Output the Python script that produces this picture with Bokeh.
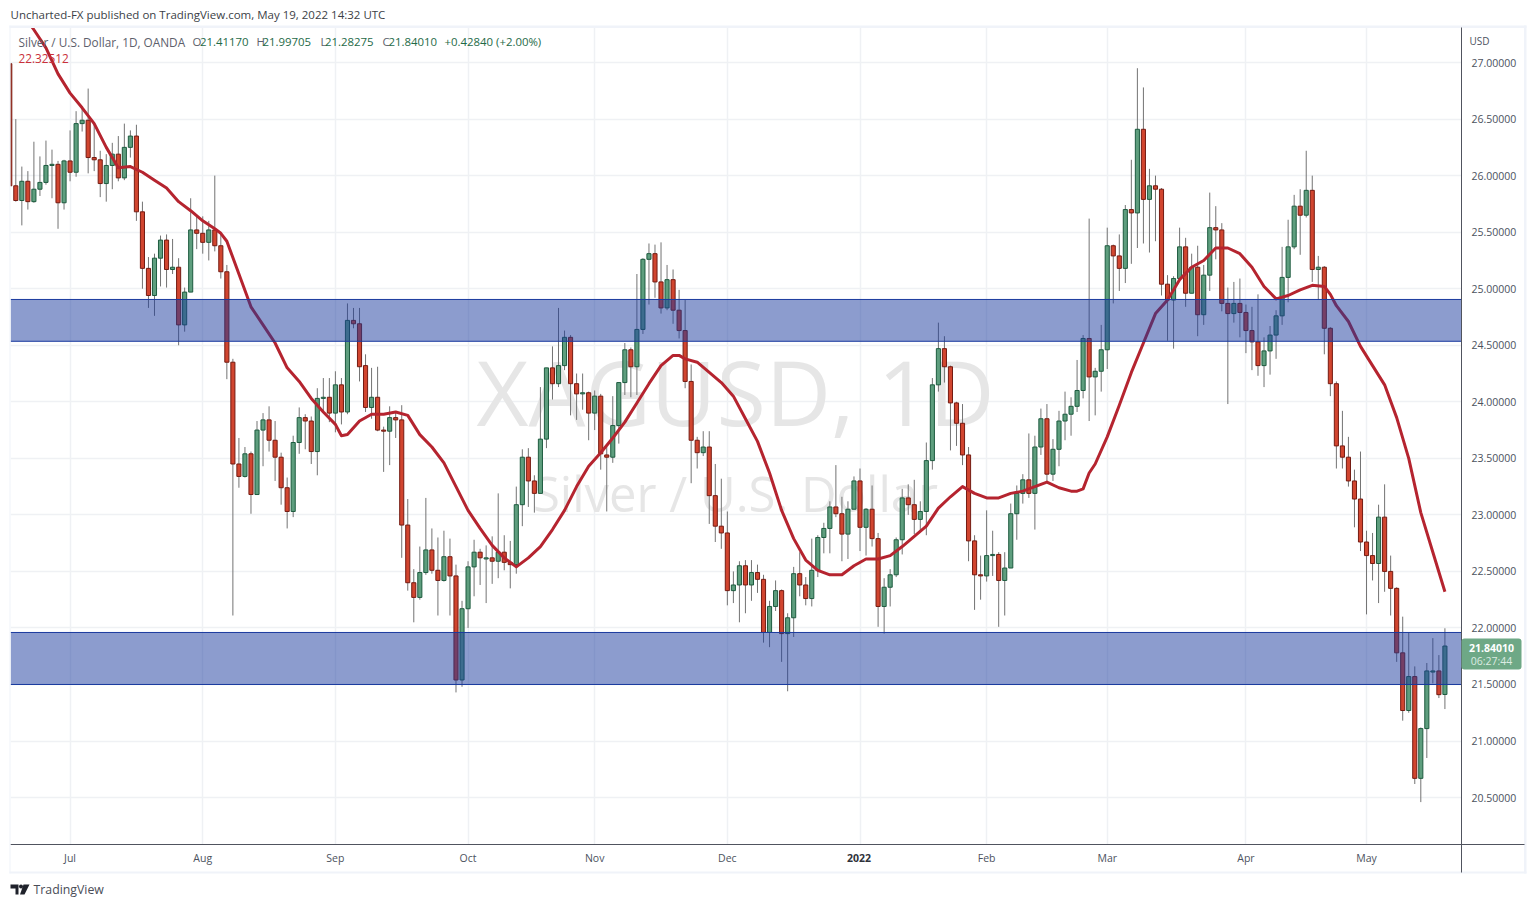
from bokeh.plotting import figure
from bokeh.models import (Range1d, LinearAxis, FixedTicker, NumeralTickFormatter, Label,
                          BoxAnnotation, Span)
from bokeh.embed import file_html
from bokeh.resources import INLINE

SYMBOL = "XAGUSD, 1D"
SUBTITLE = "Silver / U.S. Dollar"
PRICE_TICKS = [20.5, 21.0, 21.5, 22.0, 22.5, 23.0, 23.5, 24.0, 24.5, 25.0, 25.5, 26.0, 26.5, 27.0]
MONTH_BARS = [10, 32, 54, 76, 97, 119, 162, 182, 205, 225]
MONTH_NAMES = ["Jul", "Aug", "Sep", "Oct", "Nov", "Dec", "Feb", "Mar", "Apr", "May"]
YEAR_BAR = 141
YEAR_NAME = "2022"
ZONE_HIGH = (24.905, 24.535)
ZONE_LOW = (21.96, 21.50)

opens = [26.99,25.91,25.78,25.95,25.77,25.88,25.94,26.09,26.10,25.76,26.13,26.03,26.46,26.49,26.16,26.14,25.93,26.09,26.19,25.98,26.25,
 26.35,25.68,25.18,24.94,25.27,25.43,25.17,25.19,24.68,24.97,25.52,25.49,25.41,25.52,25.38,25.15,24.35,23.45,23.34,23.54,23.18,23.75,23.84,23.66,23.51,23.24,23.03,23.64,23.86,23.83,
 23.56,24.03,24.04,23.90,24.15,23.91,24.72,24.69,24.32,23.95,24.04,23.75,23.74,23.86,23.84,22.91,22.40,22.27,22.49,22.69,22.51,22.42,22.63,22.46,21.54,22.17,22.54,22.67,22.61,22.62,
 22.59,22.67,22.58,22.56,23.09,23.51,23.30,23.19,23.67,24.30,24.16,24.32,24.57,24.16,24.07,24.08,23.90,24.05,23.53,23.51,23.79,24.17,24.46,24.31,24.64,25.26,25.31,25.06,24.83,25.08,
 24.81,24.63,24.18,23.66,23.55,23.60,23.17,22.90,22.84,22.33,22.38,22.55,22.38,22.49,22.43,21.96,22.19,22.33,21.95,22.09,22.48,22.38,22.26,22.51,22.80,22.88,23.07,23.01,22.83,23.05,
 23.30,22.89,23.05,22.79,22.19,22.36,22.47,22.78,23.15,23.09,22.96,23.03,23.48,24.15,24.47,24.31,23.99,23.81,23.53,22.77,22.47,22.46,22.64,22.65,22.42,22.53,23.01,23.19,23.31,23.19,
 23.60,23.85,23.36,23.58,23.83,23.89,23.96,24.10,24.56,24.22,24.27,24.46,25.38,25.29,25.18,25.70,25.67,26.41,25.79,25.91,25.88,25.04,24.90,25.09,25.37,24.96,25.19,24.77,25.12,25.54,
 25.52,24.87,24.78,24.87,24.79,24.63,24.53,24.32,24.45,24.59,24.76,25.10,25.37,25.73,25.65,25.87,25.17,25.19,24.65,24.16,23.61,23.51,23.30,23.14,22.76,22.64,22.57,22.98,22.50,22.35,
 21.78,21.27,21.57,20.67,21.11,21.61,21.62,21.4117]
highs = [27.00,26.50,26.08,26.04,26.30,26.17,26.31,26.23,26.13,26.14,26.40,26.57,26.61,26.77,26.47,26.22,26.19,26.29,26.35,26.46,26.40,
 26.45,25.77,25.28,25.31,25.47,25.48,25.44,25.27,25.01,25.80,25.64,25.64,25.60,26.00,25.48,25.21,24.38,23.68,23.60,23.56,23.83,23.90,23.96,23.83,23.55,23.33,23.70,23.95,23.89,23.87,
 24.12,24.21,24.21,24.27,24.21,24.87,24.83,24.83,24.42,24.30,24.31,23.78,23.96,23.91,23.97,23.14,22.52,22.72,23.15,22.88,22.80,22.86,22.79,22.56,22.24,22.59,22.78,22.70,22.73,22.81,
 23.19,22.82,22.77,23.25,23.58,23.59,23.35,24.13,24.30,24.49,24.83,24.63,24.59,24.25,24.25,24.09,24.10,24.07,23.60,24.05,24.17,24.52,24.48,25.13,25.27,25.40,25.39,25.41,25.21,25.17,
 24.99,24.90,24.33,23.69,23.74,23.74,23.45,23.32,23.03,22.50,22.59,22.60,22.60,22.56,22.47,22.24,22.42,22.34,22.13,22.54,22.67,22.45,22.79,22.82,22.93,23.12,23.44,23.16,23.12,23.34,
 23.41,23.06,23.26,22.84,22.44,22.52,22.80,23.23,23.27,23.31,23.12,23.64,24.21,24.70,24.58,24.32,24.00,23.98,23.60,22.82,22.64,23.04,22.86,22.67,22.67,23.10,23.26,23.36,23.72,23.70,
 23.94,23.98,23.67,23.92,24.09,24.04,24.37,24.59,25.62,24.30,24.68,25.54,25.39,25.48,25.74,26.14,26.95,26.78,26.06,26.00,25.89,25.12,25.11,25.54,25.45,25.31,25.38,25.21,25.85,25.73,
 25.58,25.01,25.06,25.09,24.86,24.84,24.95,24.57,24.67,24.81,25.37,25.61,25.83,25.88,26.22,26.00,25.29,25.20,24.66,24.18,23.92,23.69,23.40,23.56,22.86,22.84,23.09,23.27,22.64,22.36,
 22.10,21.96,21.66,21.12,21.69,21.91,21.76,21.99705]
lows = [25.90,25.77,25.56,25.70,25.76,25.82,25.92,25.80,25.53,25.70,25.95,25.99,26.39,26.02,26.04,25.81,25.77,25.88,25.95,25.96,26.16,
 25.60,25.00,24.83,24.76,25.02,25.01,25.13,24.50,24.62,24.97,25.35,25.31,25.25,25.33,25.09,24.20,22.11,23.24,23.33,23.01,23.18,23.43,23.56,23.30,23.09,22.88,22.98,23.54,23.58,23.45,
 23.35,23.90,23.82,23.73,23.80,23.89,24.65,24.18,23.91,23.85,23.74,23.38,23.44,23.68,22.62,22.33,22.05,22.25,22.47,22.48,22.11,22.41,22.11,21.43,21.48,22.00,22.28,22.38,22.22,22.39,
 22.44,22.51,22.35,22.48,22.90,23.07,23.02,23.19,23.59,24.02,24.13,24.28,23.88,23.84,23.93,23.66,23.75,23.40,23.03,23.46,23.63,24.06,24.04,24.06,24.60,24.86,24.92,24.78,24.81,24.69,
 24.56,24.12,23.28,23.41,23.52,22.92,22.76,22.70,22.20,22.22,22.05,22.13,22.24,22.31,21.87,21.83,22.15,21.70,21.44,21.92,22.28,22.20,22.19,22.45,22.66,22.66,22.98,22.59,22.61,23.05,
 22.68,22.64,22.72,22.01,21.95,22.19,22.45,22.65,23.00,22.83,22.85,22.82,23.40,24.09,24.17,23.57,23.61,23.44,22.59,22.16,22.25,22.41,22.46,22.01,22.11,22.53,22.78,23.10,23.15,22.87,
 23.53,23.30,23.30,23.43,23.66,23.70,23.91,24.03,23.83,23.88,24.09,24.29,24.87,24.98,25.05,25.22,25.36,25.40,25.32,25.42,24.94,24.54,24.47,25.07,24.84,24.96,24.58,24.68,24.98,25.26,
 24.80,23.98,24.70,24.57,24.43,24.28,24.23,24.13,24.24,24.38,24.68,24.88,25.35,25.30,25.63,25.06,24.90,24.42,24.05,23.41,23.41,23.25,22.89,22.68,22.12,22.42,22.22,22.32,22.11,21.70,
 21.18,21.25,20.62,20.46,20.85,21.51,21.38,21.28275]
closes = [25.91,25.78,25.95,25.77,25.88,25.94,26.09,26.10,25.76,26.13,26.03,26.46,26.49,26.16,26.14,25.93,26.09,26.19,25.98,26.25,26.35,
 25.68,25.18,24.94,25.27,25.43,25.17,25.19,24.68,24.97,25.52,25.49,25.41,25.52,25.38,25.15,24.35,23.45,23.34,23.54,23.18,23.75,23.84,23.66,23.51,23.24,23.03,23.64,23.86,23.83,23.56,
 24.03,24.04,23.90,24.15,23.91,24.72,24.69,24.31,23.95,24.04,23.75,23.74,23.86,23.84,22.91,22.40,22.27,22.49,22.69,22.51,22.42,22.63,22.46,21.54,22.17,22.54,22.67,22.62,22.62,22.59,
 22.67,22.58,22.56,23.09,23.51,23.30,23.19,23.67,24.30,24.16,24.32,24.57,24.16,24.07,24.08,23.90,24.05,23.54,23.51,23.79,24.17,24.46,24.31,24.64,25.26,25.31,25.06,24.83,25.08,24.81,
 24.63,24.18,23.66,23.55,23.60,23.17,22.90,22.84,22.33,22.38,22.55,22.38,22.49,22.43,21.96,22.19,22.33,21.95,22.09,22.48,22.38,22.26,22.51,22.80,22.88,23.07,23.01,22.83,23.05,23.30,
 22.89,23.05,22.79,22.19,22.36,22.47,22.78,23.15,23.09,22.96,23.03,23.48,24.15,24.47,24.31,23.99,23.81,23.53,22.77,22.47,22.46,22.64,22.65,22.42,22.53,23.01,23.19,23.31,23.19,23.60,
 23.85,23.36,23.58,23.83,23.89,23.96,24.10,24.56,24.22,24.27,24.46,25.38,25.29,25.18,25.70,25.67,26.41,25.79,25.91,25.88,25.04,24.90,25.09,25.37,24.96,25.19,24.77,25.12,25.54,25.52,
 24.87,24.78,24.87,24.79,24.63,24.53,24.32,24.45,24.59,24.76,25.10,25.37,25.73,25.65,25.87,25.17,25.19,24.65,24.16,23.61,23.51,23.30,23.14,22.76,22.64,22.57,22.98,22.50,22.35,21.78,
 21.27,21.57,20.67,21.11,21.62,21.62,21.41,21.8401]

ma_bars = [1,4,6,8,10,12,14,16,18,20,22,24,26,28,30,32,34,35,36,38,40,42,44,46,48,50,52,54,55,56,58,60,62,64,66,68,70,72,74,76,78,80,82,84,86,88,90,92,94,96,98,100,102,104,106,108,110,111,112,114,
 116,118,120,122,124,126,128,130,132,134,136,138,140,142,144,146,148,150,152,154,156,158,160,162,164,166,168,170,172,174,176,177,178,179,180,182,184,186,188,190,192,194,196,198,200,202,204,206,208,210,212,214,216,218,219,220,222,224,226,228,230,232,234,236,238]
ma_vals = [27.52,27.29,27.13,26.90,26.73,26.60,26.46,26.25,26.07,26.08,26.03,25.96,25.89,25.77,25.69,25.60,25.53,25.49,25.42,25.13,24.84,24.68,24.52,24.30,24.18,24.03,23.91,23.80,23.70,23.71,23.83,23.89,23.89,23.91,23.88,23.71,23.60,23.46,23.25,23.04,22.88,22.73,22.62,22.54,22.62,22.72,22.87,23.04,23.25,23.43,23.55,23.68,23.82,23.99,24.16,24.32,24.41,24.41,24.38,24.35,
 24.26,24.17,24.05,23.85,23.65,23.37,23.04,22.79,22.60,22.51,22.47,22.47,22.55,22.61,22.61,22.64,22.72,22.81,22.90,23.06,23.16,23.25,23.19,23.15,23.15,23.19,23.21,23.25,23.29,23.24,23.21,23.21,23.23,23.37,23.45,23.69,23.97,24.26,24.52,24.78,24.90,25.08,25.19,25.25,25.36,25.36,25.31,25.19,25.02,24.91,24.94,24.99,25.03,25.02,24.95,24.85,24.71,24.49,24.32,24.15,23.86,23.50,23.02,22.67,22.32]

bars = list(range(len(opens)))
UP = "#5e9e7e"; UP_EDGE = "#1d5b3f"; DN = "#d1452f"; DN_EDGE = "#741b12"; WICK = "#737373"
TEXT_FONT = "Open Sans"

p = figure(width=1527, height=899, output_backend="svg", toolbar_location=None,
           x_range=Range1d(0.12, 240.75), y_range=Range1d(20.085, 27.31),
           min_border_left=10, min_border_right=66, min_border_top=27, min_border_bottom=55,
           outline_line_color=None, background_fill_color="white", border_fill_color="white")

p.yaxis.visible = False
ax_r = LinearAxis(ticker=FixedTicker(ticks=PRICE_TICKS), formatter=NumeralTickFormatter(format="0.00000"),
                  major_tick_line_color=None, minor_tick_line_color=None, axis_line_color="#50535e",
                  major_tick_out=0, minor_tick_out=0,
                  major_label_text_font=TEXT_FONT, major_label_text_font_size="10.5px",
                  major_label_text_color="#4c525e", major_label_standoff=10)
p.add_layout(ax_r, "right")
ax_b = p.xaxis[0]
ax_b.ticker = FixedTicker(ticks=MONTH_BARS)
ax_b.major_label_overrides = dict(zip(MONTH_BARS, MONTH_NAMES))
ax_b.major_tick_line_color = None
ax_b.minor_tick_line_color = None
ax_b.major_tick_out = 0
ax_b.minor_tick_out = 0
ax_b.axis_line_color = "#50535e"
ax_b.major_label_text_font = TEXT_FONT
ax_b.major_label_text_font_size = "10.5px"
ax_b.major_label_text_color = "#4c525e"
ax_b.major_label_standoff = 6

p.xgrid.ticker = FixedTicker(ticks=MONTH_BARS + [YEAR_BAR])
p.ygrid.ticker = FixedTicker(ticks=PRICE_TICKS)
p.xgrid.grid_line_color = "#eff1f4"
p.ygrid.grid_line_color = "#eff1f4"
p.xgrid.grid_line_width = 1.5
p.ygrid.grid_line_width = 1.5

# watermark, under the candles
for yy, txt, sz in ((390, SYMBOL, "90px"), (492, SUBTITLE, "49px")):
    p.add_layout(Label(x=735 - 10, y=844 - yy, x_units="screen", y_units="screen", text=txt,
                       text_color="#e6e6e6", text_font=TEXT_FONT, text_font_size=sz,
                       text_align="center", text_baseline="middle", level="underlay"))

# candles
up = [i for i in bars if closes[i] >= opens[i]]
dn = [i for i in bars if closes[i] < opens[i]]
p.segment(bars, lows, bars, highs, line_color=WICK, line_width=1)
p.vbar([bars[i] for i in up], 0.68, [opens[i] for i in up], [closes[i] for i in up],
       fill_color=UP, line_color=UP_EDGE, line_width=1)
p.vbar([bars[i] for i in dn], 0.68, [closes[i] for i in dn], [opens[i] for i in dn],
       fill_color=DN, line_color=DN_EDGE, line_width=1)
p.line(ma_bars, ma_vals, line_color="#b5242f", line_width=3, line_join="round")

# zones
for top, bot in (ZONE_HIGH, ZONE_LOW):
    p.add_layout(BoxAnnotation(top=top, bottom=bot, fill_color="#1a3a9e", fill_alpha=0.5, line_alpha=0))
    for loc in (top, bot):
        p.add_layout(Span(location=loc, dimension="width", line_color="#1a3a9e", line_width=1))

# transparent sheet over the page for everything that sits outside the plotting frame
ov = figure(width=1527, height=899, output_backend="svg", toolbar_location=None,
            x_range=Range1d(0, 1527), y_range=Range1d(899, 0), x_axis_location=None, y_axis_location=None,
            min_border=0, outline_line_color=None, background_fill_alpha=0, border_fill_alpha=0,
            styles={"position": "absolute", "left": "0px", "top": "0px", "pointer-events": "none"})
ov.grid.visible = False

def lab(x, y, text, color="#4c525e", size="11.5px", style="normal", align="left"):
    ov.add_layout(Label(x=x, y=y, text=text, text_color=color, text_font=TEXT_FONT,
                        text_font_size=size, text_font_style=style, text_align=align, text_baseline="middle"))

def box(l, r, t, b, **kw):
    ov.add_layout(BoxAnnotation(left=l, right=r, top=t, bottom=b, **kw))

FRAME = "#f0f3f9"
box(9, 10, 25, 873, fill_color=FRAME, fill_alpha=1, line_alpha=0)
box(9, 1526, 25, 27.5, fill_color=FRAME, fill_alpha=1, line_alpha=0)
box(1523.5, 1526, 25, 873, fill_color=FRAME, fill_alpha=1, line_alpha=0)
box(9, 1526, 871, 873, fill_color=FRAME, fill_alpha=1, line_alpha=0)
box(1460.5, 1461.5, 27, 872, fill_color="#50535e", fill_alpha=1, line_alpha=0)
box(1461, 1524, 843.5, 844.5, fill_color="#50535e", fill_alpha=1, line_alpha=0)
box(1461, 1521, 638, 669, fill_color="#6ea886", fill_alpha=1, line_alpha=0, border_radius=3)

lab(10, 14, "Uncharted-FX published on TradingView.com, May 19, 2022 14:32 UTC", color="#3c3f47", size="11.5px")
lab(18, 41, "Silver / U.S. Dollar, 1D, OANDA", color="#5d606b", size="11.8px")
VAL = "#1e6a47"
for x, tag, vx, val in ((192, "O", 199.5, "21.41170"), (256, "H", 262, "21.99705"),
                        (320, "L", 324.5, "21.28275"), (382, "C", 388, "21.84010")):
    lab(x, 41, tag, color="#5d606b", size="11.4px")
    lab(vx, 41, val, color=VAL, size="11.4px")
lab(444, 41, "+0.42840 (+2.00%)", color=VAL, size="11.4px")
lab(18, 58, "22.32512", color="#c9303a", size="11.8px")
lab(1469, 40, "USD", color="#4c525e", size="10px")
lab(1491, 647, "21.84010", color="#ffffff", size="10.5px", style="bold", align="center")
lab(1491, 660, "06:27:44", color="#dcebe2", size="10.5px", align="center")
lab(858.5, 857, YEAR_NAME, color="#2f323a", size="10.5px", style="bold", align="center")
lab(33, 889, "TradingView", color="#4a4d57", size="12.3px")

# logo
LOGO = "#1f222b"
ov.patch([10, 18, 18, 15, 15, 10], [884, 884, 894, 894, 888, 888], fill_color=LOGO, line_alpha=0)
ov.patch([23, 29, 24, 19.5], [884, 884, 894, 894], fill_color=LOGO, line_alpha=0)
ov.scatter([20.5], [886], size=4, fill_color=LOGO, line_alpha=0)

open("out.html", "w").write(file_html([p, ov], INLINE))
